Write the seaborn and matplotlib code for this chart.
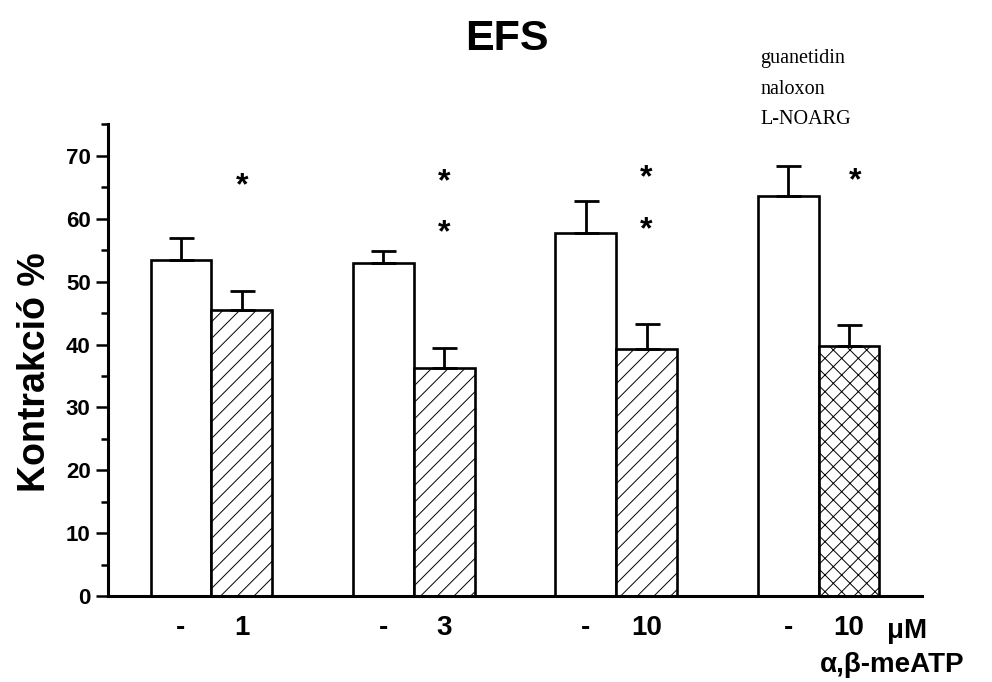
import numpy as np
import pandas as pd
import matplotlib
matplotlib.use("Agg")
import matplotlib.pyplot as plt
import seaborn as sns
from matplotlib.ticker import MultipleLocator

# values
groups = ["1", "3", "10", "10 + guan/nal/L-NOARG"]
conditions = ["kontroll", "α,β-meATP"]
control_mean = [53.5, 53.0, 57.8, 63.7]
control_sem = [3.5, 1.9, 5.0, 4.7]
atp_mean = [45.5, 36.2, 39.3, 39.8]
atp_sem = [3.0, 3.2, 3.9, 3.3]
tick_labels = ["-", "1", "-", "3", "-", "10", "-", "10"]
hatches = ["//", "//", "//", "xx"]
# asterisks above the treated bars (baseline y in data units)
star_x = [0.15, 1.15, 1.15, 2.15, 2.15, 3.18]
star_y = [63.9, 64.5, 56.4, 65.2, 56.9, 64.7]
blockers = ["guanetidin", "naloxon", "L-NOARG"]

df = pd.DataFrame({
    "group": groups * 2,
    "cond": [conditions[0]] * 4 + [conditions[1]] * 4,
    "value": control_mean + atp_mean,
})

sns.set_style("ticks", {"axes.edgecolor": "black", "text.color": "black",
                        "xtick.color": "black", "ytick.color": "black",
                        "axes.labelcolor": "black"})
plt.rcParams["font.family"] = ["Liberation Sans", "DejaVu Sans"]
plt.rcParams["hatch.linewidth"] = 0.7

fig = plt.figure(figsize=(9.92, 6.82), dpi=100)
ax = fig.add_axes([0.1089, 0.1261, 0.8205, 0.6914])

sns.barplot(data=df, x="group", y="value", hue="cond", order=groups,
            hue_order=conditions, palette=["white", "white"], width=0.6,
            edgecolor="black", linewidth=1.9, legend=False, ax=ax, zorder=2)

bars = ax.patches
n = len(groups)
for p, h in zip(bars[n:2 * n], hatches):
    p.set_hatch(h)

centers = [p.get_x() + p.get_width() / 2 for p in bars[:2 * n]]
means = control_mean + atp_mean
sems = control_sem + atp_sem
ax.errorbar(centers, means, yerr=[np.zeros(len(sems)), sems], fmt="none",
            ecolor="black", elinewidth=2.0, capsize=9, capthick=2.0, zorder=3)

ax.set_xlim(-0.51, 3.51)
ax.set_ylim(0, 75)
ax.yaxis.set_major_locator(MultipleLocator(10))
ax.yaxis.set_minor_locator(MultipleLocator(5))
ax.set_yticks(range(0, 71, 10))
ax.tick_params(axis="y", which="major", length=8.5, width=1.8, labelsize=16, pad=4)
ax.tick_params(axis="y", which="minor", length=5, width=1.8)
for lab in ax.get_yticklabels():
    lab.set_fontweight("bold")

order = sorted(range(2 * n), key=lambda i: centers[i])
ax.set_xticks([centers[i] for i in order])
ax.set_xticklabels(tick_labels, fontsize=20, fontweight="bold")
ax.tick_params(axis="x", length=0, pad=14)
ax.set_xlabel("")
ax.set_ylabel("Kontrakció %", fontsize=27, fontweight="bold")
ax.yaxis.set_label_coords(-0.068, 0.475)

sns.despine(ax=ax)
for s in ["left", "bottom"]:
    ax.spines[s].set_linewidth(2.2)

for x, y in zip(star_x, star_y):
    ax.text(x, y, "*", ha="center", va="baseline", fontsize=23, fontweight="bold")

trans = ax.get_xaxis_transform()
ax.text(3.335, -0.089, "μM", transform=trans, ha="left", va="baseline",
        fontsize=20, fontweight="bold", clip_on=False)
ax.text(3.004, -0.161, "α,β-meATP", transform=trans, ha="left", va="baseline",
        fontsize=20, fontweight="bold", clip_on=False)

for i, txt in enumerate(blockers):
    ax.text(2.71, 84.8 - i * 4.9, txt, ha="left", va="baseline", fontsize=14.5,
            family=["Liberation Serif", "DejaVu Serif"], clip_on=False)

fig.text(507 / 992, 1 - 50 / 682, "EFS", ha="center", va="baseline",
         fontsize=31, fontweight="bold")

fig.savefig("out.png", dpi=100)
